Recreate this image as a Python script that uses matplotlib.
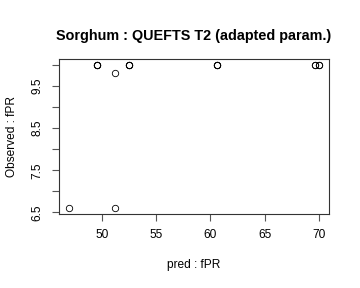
import matplotlib
matplotlib.use("Agg")
import matplotlib.pyplot as plt
import numpy as np

plt.rcParams['font.family'] = ['Liberation Sans', 'DejaVu Sans']

# predicted vs observed fPR (repeated values are overlapping points)
pred = [47.0, 51.2, 51.2, 49.57, 49.6, 49.6, 52.48, 52.5, 52.5,
        60.6, 60.62, 60.6, 69.65, 69.67, 70.0, 69.98]
obs = [6.6, 6.6, 9.8, 10.0, 10.0, 10.0, 10.0, 10.0, 10.0,
       10.0, 10.0, 10.0, 10.0, 10.0, 10.0, 10.0]

xticks = [50, 55, 60, 65, 70]
yticks = [6.5, 7.0, 7.5, 8.0, 8.5, 9.0, 9.5, 10.0]
ylabels = ['6.5', '', '7.5', '', '8.5', '', '9.5', '']

fig = plt.figure(figsize=(3.6, 2.88), dpi=100)
ax = fig.add_axes([0.164, 0.257, 0.75, 0.538])

ax.plot(pred, obs, 'o', mfc='none', mec='black', ms=4.6, mew=0.6)

# R style 4% padding
xr = max(pred) - min(pred)
yr = max(obs) - min(obs)
ax.set_xlim(min(pred) - 0.04 * xr, max(pred) + 0.04 * xr)
ax.set_ylim(min(obs) - 0.04 * yr, max(obs) + 0.04 * yr)

ax.set_xticks(xticks)
ax.set_xticklabels([str(t) for t in xticks])
ax.set_yticks(yticks)
ax.set_yticklabels(ylabels, rotation=90, va='center')

for s in ax.spines.values():
    s.set_linewidth(0.8)
    s.set_color('#333333')
ax.tick_params(length=5.2, width=0.8, color='#555555', labelsize=8.6, pad=5.5)
ax.tick_params(axis='y', pad=6)

ax.set_title('Sorghum : QUEFTS T2 (adapted param.)', fontsize=10.4,
             fontweight='bold', pad=14)
ax.set_xlabel('pred : fPR', fontsize=8.6, labelpad=13)
ax.set_ylabel('Observed : fPR', fontsize=8.6, labelpad=10)

fig.savefig('out.png', dpi=100)
